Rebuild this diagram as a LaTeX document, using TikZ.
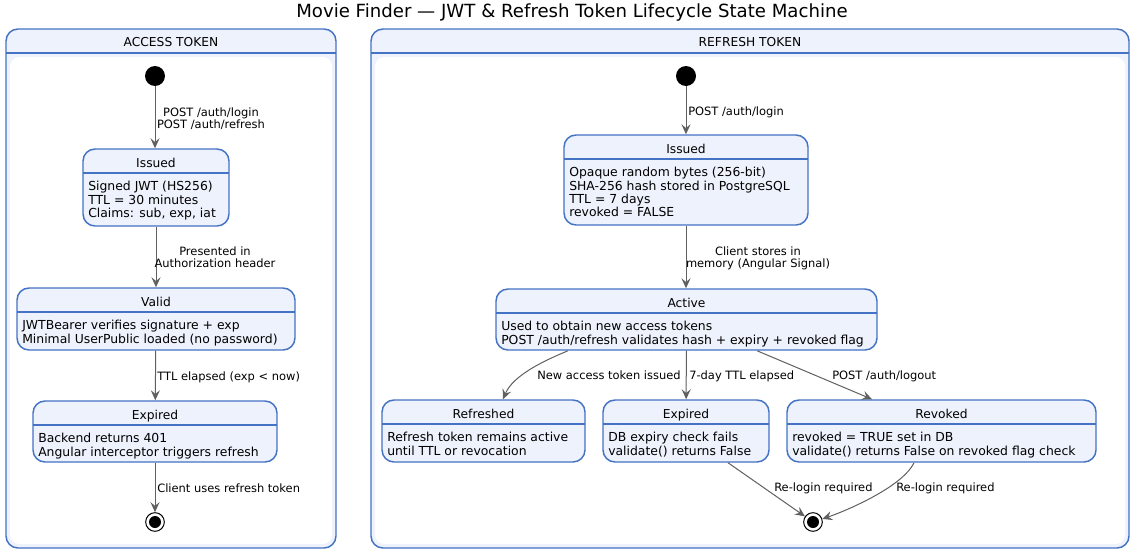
\documentclass[tikz,border=0pt]{standalone}
\usepackage{fontspec}
\setmainfont{DejaVu Sans}
\usepackage{tikz}
\usetikzlibrary{arrows.meta, positioning, calc, fit}
\definecolor{stborder}{RGB}{68,114,196}
\definecolor{stfill}{RGB}{238,242,252}
\definecolor{trgray}{RGB}{96,96,96}

\newcommand{\tokstate}[7]{%
  \node[sbox, fit={(#2,#3) (#4,#5)}] (#1) {};
  \draw[sline] (#2,#3+24) -- (#4,#3+24);
  \node[sname] (#1-t) at ({(#2+#4)/2},#3+18) {#6};
  \node[sbody] (#1-b) at (#2+5,#3+32) {#7};}

\begin{document}
\begin{tikzpicture}[x=0.75pt, y=-0.75pt,
  >={Stealth[length=7.5pt, width=6.8pt, inset=2.8pt]},
  sbox/.style={draw=stborder, fill=stfill, line width=1.1pt,
    rounded corners=9pt, inner sep=0pt},
  sline/.style={draw=stborder, line width=0.9pt},
  sname/.style={anchor=base, inner sep=0pt, font=\fontsize{9.2}{10}\selectfont},
  sbody/.style={anchor=north west, align=left, inner sep=0pt,
    font=\fontsize{9.3}{10}\selectfont},
  lbl/.style={inner sep=0pt, font=\fontsize{8.6}{9.2}\selectfont},
  tr/.style={->, draw=trgray, line width=0.75pt},
  startdot/.style={circle, fill=black, minimum size=15pt, inner sep=0pt},
  enddot/.style={circle, draw=black, fill=white, line width=0.75pt,
    minimum size=14pt, inner sep=0pt, path picture={\fill[black]
    (path picture bounding box.center) circle (4.5pt);}},
  comp/.style={draw=stborder, fill=stfill, line width=1.1pt,
    rounded corners=9pt, inner sep=0pt}]
  \useasboundingbox (0,0) rectangle (1140,557);
  \node[anchor=base, inner sep=0pt, font=\fontsize{13.6}{15}\selectfont] (title)
    at (572,17) {Movie Finder — JWT \& Refresh Token Lifecycle State Machine};

  \node[comp, fit={(6,29) (336,548)}] (accBox) {};
  \fill[white, rounded corners=7pt] (10,57) rectangle (332,544);
  \draw[sline] (6,53) -- (336,53);
  \node[sname] (accName) at (171,46) {ACCESS TOKEN};

  \node[comp, fit={(371,29) (1129,548)}] (refBox) {};
  \fill[white, rounded corners=7pt] (375,57) rectangle (1125,544);
  \draw[sline] (371,53) -- (1129,53);
  \node[sname] (refName) at (750,46) {REFRESH TOKEN};

  \node[startdot] (aStart) at (155,76) {};
  \tokstate{aIss}{83}{149}{229}{226}{Issued}{Signed JWT (HS256)\\TTL = 30 minutes\\Claims: sub, exp, iat}
  \tokstate{aVal}{17}{288}{295}{350}{Valid}{JWTBearer verifies signature + exp\\Minimal UserPublic loaded (no password)}
  \tokstate{aExp}{33}{401}{277}{462}{Expired}{Backend returns 401\\Angular interceptor triggers refresh}
  \node[enddot] (aEnd) at (155,522) {};

  \node[startdot] (rStart) at (686,76) {};
  \tokstate{rIss}{564}{135}{808}{225}{Issued}{Opaque random bytes (256-bit)\\SHA-256 hash stored in PostgreSQL\\TTL = 7 days\\revoked = FALSE}
  \tokstate{rAct}{496}{289}{877}{350}{Active}{Used to obtain new access tokens\\POST /auth/refresh validates hash + expiry + revoked flag}
  \tokstate{rRef}{382}{400}{585}{462}{Refreshed}{Refresh token remains active\\until TTL or revocation}
  \tokstate{rExp}{603}{400}{769}{462}{Expired}{DB expiry check fails\\validate() returns False}
  \tokstate{rRev}{787}{400}{1096}{462}{Revoked}{revoked = TRUE set in DB\\validate() returns False on revoked flag check}
  \node[enddot] (rEnd) at (813,522) {};

  \draw[tr] (aStart) -- (aStart |- aIss.north);
  \draw[tr] (aIss) -- (aVal);
  \draw[tr] (aVal) -- (aExp);
  \draw[tr] (aExp) -- (aEnd);
  \node[lbl, anchor=north, align=center] (lLogin) at (211,107.5) {POST /auth/login\\POST /auth/refresh};
  \node[lbl, anchor=north, align=center] (lPres) at (215,246.5) {Presented in\\Authorization header};
  \node[lbl, anchor=base west] (lTtl) at (157,380) {TTL elapsed (exp < now)};
  \node[lbl, anchor=base west] (lUse) at (157,492) {Client uses refresh token};

  \draw[tr] (rStart) -- (rStart |- rIss.north);
  \draw[tr] (rIss.south) -- (rIss.south |- rAct.north);
  \draw[tr] ($(rAct.south)+(-118.5,0)$) .. controls +(-24,10) and +(10,-24) .. ($(rRef.north)+(19.5,0)$);
  \draw[tr] (rAct) -- (rExp);
  \draw[tr] ($(rAct.south)+(70.5,0)$) -- ($(rRev.north)+(-69.5,0)$);
  \draw[tr] ($(rExp.south)+(42,0)$) -- (rEnd);
  \draw[tr] ($(rRev.south)+(-27.5,0)$) .. controls +(-12,25) and +(30,-10) .. (rEnd);
  \node[lbl, anchor=base west] (lRLogin) at (688,115) {POST /auth/login};
  \node[lbl, anchor=north, align=center] (lStore) at (758,246.5) {Client stores in\\memory (Angular Signal)};
  \node[lbl, anchor=base west] (lNew) at (537,379) {New access token issued};
  \node[lbl, anchor=base west] (l7day) at (689,379) {7-day TTL elapsed};
  \node[lbl, anchor=base west] (lOut) at (832,379) {POST /auth/logout};
  \node[lbl, anchor=base west] (lRe1) at (774,491) {Re-login required};
  \node[lbl, anchor=base west] (lRe2) at (896,491) {Re-login required};
\end{tikzpicture}
\end{document}
